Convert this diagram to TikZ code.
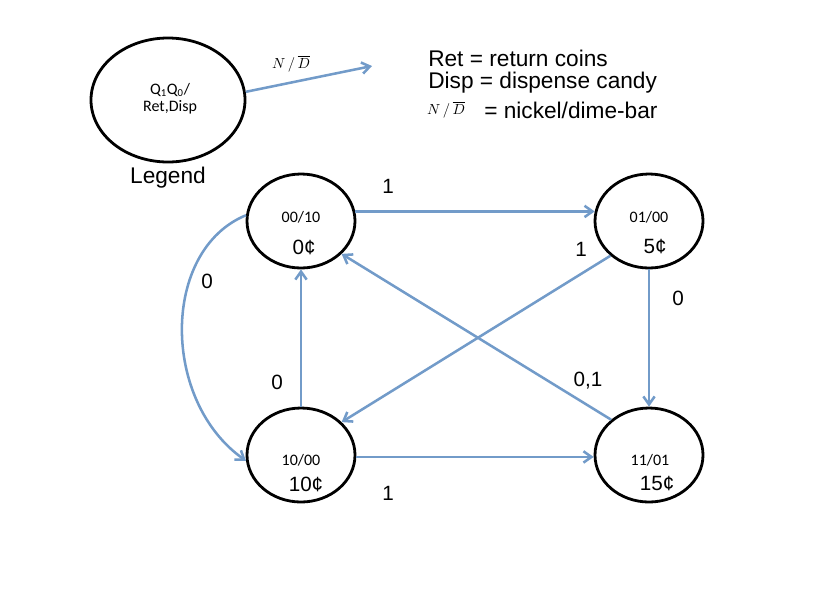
\documentclass[tikz,border=0pt]{standalone}
\usepackage{amsmath}
\usepackage{fontspec}
\setmainfont{Liberation Sans}
\newfontfamily\calfont{Carlito}
\usetikzlibrary{shapes.geometric,arrows.meta}
\definecolor{edgeblue}{RGB}{114,155,201}

\begin{document}
\begin{tikzpicture}[x=0.75pt,y=0.75pt,yscale=-1,xscale=1,
    state/.style={draw,ellipse,line width=2.1pt,minimum width=81pt,minimum height=70.5pt,inner sep=0pt},
    trans/.style={draw=edgeblue,line width=1.9pt,-{Straight Barb[length=6pt,width=8.5pt]}},
    big/.style={font=\fontsize{17}{20}\selectfont,inner sep=0.75pt},
    lbl/.style={font=\fontsize{15.5}{18}\selectfont,inner sep=0.75pt},
    code/.style={font=\calfont\fontsize{12}{14}\selectfont,inner sep=0.75pt},
    ndbar/.style={font=\fontsize{11}{13}\selectfont,inner sep=0.75pt}]
\useasboundingbox (0,0) rectangle (827,594);

%Legend
\node [state,minimum width=115.5pt,minimum height=93pt] (legend) at (168,100) {};
\node [code] (legq) at (170,90) {Q\textsubscript{1}Q\textsubscript{0}/};
\node [code] (legout) at (170,107) {Ret,Disp};
\node [big] (legname) at (168,178) {Legend};
\coordinate (legtip) at (372,66);
\draw [trans] (legend.6) -- (legtip);
\node [ndbar] (legnd) at (291,64) {$N\,/\,\overline{D}$};

% Text Node
\node [big,anchor=west] (retdef) at (427,58) {Ret = return coins};
\node [big,anchor=west] (dispdef) at (427,83) {Disp = dispense candy};
\node [ndbar] (nddef) at (446,110) {$N\,/\,\overline{D}$};
\node [big,anchor=west] (nickdef) at (483,110) {= nickel/dime-bar};

%States
\node [state] (s00) at (301,221) {};
\node [state] (s01) at (649,221) {};
\node [state] (s10) at (301,455) {};
\node [state] (s11) at (649,455) {};

\node [code] (c00) at (301,217) {00/10};
\node [lbl] (v00) at (304,247) {0¢};
\node [code] (c01) at (649,217) {01/00};
\node [lbl] (v01) at (655,247) {5¢};
\node [code] (c10) at (301,460) {10/00};
\node [lbl] (v10) at (306,484) {10¢};
\node [code] (c11) at (650,460) {11/01};
\node [lbl] (v11) at (657,484) {15¢};

%Transitions
\draw [trans] (s00.10) -- (s01.170);
\draw [trans] (s10.-2) -- (s11.182);
\draw [trans] (s10.north) -- (s00.south);
\draw [trans] (s01.south) -- (s11.north);
\draw [trans] (s01.222) -- (s10.39);
\draw [trans] (s11.137) -- (s00.-39);
\draw [trans] (s00.174) .. controls +(-85,35) and +(-85,-60) .. (s10.186);

% Text Node
\node [lbl] (t1a) at (388,186) {1};
\node [lbl] (t1b) at (581,249) {1};
\node [lbl] (t0a) at (678,298) {0};
\node [lbl] (t0b) at (207,281) {0};
\node [lbl] (t0c) at (277,382) {0};
\node [lbl] (t01) at (588,381) {0,1};
\node [lbl] (t1c) at (388,493) {1};

\end{tikzpicture}
\end{document}
